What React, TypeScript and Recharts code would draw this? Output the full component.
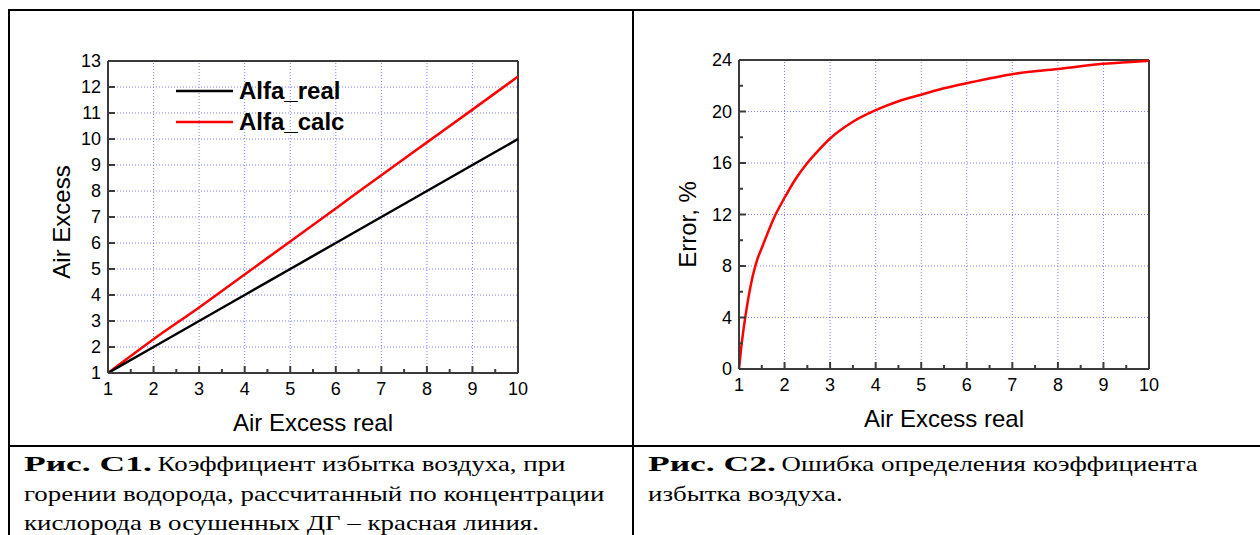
import React from "react";
import { LineChart, Line, XAxis, YAxis, ReferenceLine, Legend, Label } from "recharts";

// ---- data ----
const airExcessReal = [1, 2, 3, 4, 5, 6, 7, 8, 9, 10];
const alfaReal = [1, 2, 3, 4, 5, 6, 7, 8, 9, 10];
const alfaCalc = [1, 2.3, 3.52, 4.79, 6.06, 7.33, 8.61, 9.87, 11.13, 12.4];

const errorX = [1, 1.05, 1.1, 1.15, 1.2, 1.3, 1.4, 1.5, 1.6, 1.75, 2, 2.25, 2.5, 2.75, 3, 3.5, 4, 4.5, 5, 5.5, 6, 7, 8, 9, 10];
const errorPct = [0, 1.7, 3.1, 4.3, 5.4, 7.2, 8.5, 9.4, 10.3, 11.6, 13.3, 14.8, 16.0, 17.0, 17.9, 19.2, 20.1, 20.8, 21.3, 21.8, 22.2, 22.9, 23.3, 23.7, 23.95];

const legendOrder = ["Alfa_real", "Alfa_calc"];
const xTicks = [1, 1.5, 2, 2.5, 3, 3.5, 4, 4.5, 5, 5.5, 6, 6.5, 7, 7.5, 8, 8.5, 9, 9.5, 10];
const xGrid = [2, 3, 4, 5, 6, 7, 8, 9];
const leftYTicks = [1, 2, 3, 4, 5, 6, 7, 8, 9, 10, 11, 12, 13];
const leftYGrid = [2, 3, 4, 5, 6, 7, 8, 9, 10, 11, 12];
const rightYTicks = [0, 2, 4, 6, 8, 10, 12, 14, 16, 18, 20, 22, 24];
const rightYGrid = [4, 8, 12, 16, 20];

const leftData = airExcessReal.map((x, i) => ({ x, real: alfaReal[i], calc: alfaCalc[i] }));
const rightData = errorX.map((x, i) => ({ x, err: errorPct[i] }));

const AXIS = "#3a3a3a";
const GRID = "#8080ff";
const ARIAL = "Arial, 'Liberation Sans', sans-serif";
const TICK_FONT = { fontFamily: ARIAL, fontSize: 18, fill: "#000" };
const TITLE_FONT = { fontFamily: ARIAL, fontSize: 24, fill: "#000" };

function XTick(props: any) {
  const { x, y, payload } = props;
  const v = payload.value as number;
  const major = Number.isInteger(v);
  return (
    <g>
      <line x1={x} x2={x} y1={y} y2={y - (major ? 7 : 4)} stroke={AXIS} strokeWidth={2} />
      {major && (
        <text x={x} y={y + 16} textAnchor="middle" dominantBaseline="central" style={TICK_FONT}>
          {v}
        </text>
      )}
    </g>
  );
}

const makeYTick = (labelStep: number) => (props: any) => {
  const { x, y, payload } = props;
  const v = payload.value as number;
  const major = v % labelStep === 0;
  return (
    <g>
      <line x1={x} x2={x + (major ? 7 : 4)} y1={y} y2={y} stroke={AXIS} strokeWidth={2} />
      {major && (
        <text x={x - 7} y={y} textAnchor="end" dominantBaseline="central" style={TICK_FONT}>
          {v}
        </text>
      )}
    </g>
  );
};

const xTitle = (text: string, baseline: number) => (props: any) => {
  const vb = props.viewBox;
  return (
    <text x={vb.x + vb.width / 2} y={vb.y + baseline} textAnchor="middle" style={TITLE_FONT}>
      {text}
    </text>
  );
};

const yTitle = (text: string, gap: number, shift: number) => (props: any) => {
  const vb = props.viewBox;
  const cx = vb.x + vb.width - gap;
  const cy = vb.y + vb.height / 2 + shift;
  return (
    <text
      x={cx}
      y={cy}
      transform={`rotate(-90 ${cx} ${cy})`}
      textAnchor="middle"
      dominantBaseline="central"
      style={TITLE_FONT}
    >
      {text}
    </text>
  );
};

function LegendBox(props: any) {
  const items = [...(props.payload || [])].sort(
    (a: any, b: any) => legendOrder.indexOf(a.value) - legendOrder.indexOf(b.value)
  );
  return (
    <div style={{ fontFamily: ARIAL, fontWeight: "bold", fontSize: 24, color: "#000" }}>
      {items.map((it: any) => (
        <div key={it.value} style={{ display: "flex", alignItems: "center", height: 31 }}>
          <svg width={57} height={6} style={{ marginRight: 6 }}>
            <line x1={0} x2={57} y1={3} y2={3} stroke={it.color} strokeWidth={2.5} />
          </svg>
          <span>{it.value}</span>
        </div>
      ))}
    </div>
  );
}

function LeftChart() {
  return (
    <LineChart width={630} height={440} data={leftData} margin={{ top: 61, right: 112, left: 14, bottom: 7 }}>
      {xGrid.map((v) => (
        <ReferenceLine key={"gx" + v} x={v} stroke={GRID} strokeDasharray="1 2" />
      ))}
      {leftYGrid.map((v) => (
        <ReferenceLine key={"gy" + v} y={v} stroke={GRID} strokeDasharray="1 2" />
      ))}
      <ReferenceLine y={13} stroke={AXIS} strokeWidth={2} />
      <ReferenceLine x={10} stroke={AXIS} strokeWidth={2} />
      <XAxis
        type="number"
        dataKey="x"
        domain={[1, 10]}
        ticks={xTicks}
        interval={0}
        height={60}
        tickSize={0}
        tickMargin={0}
        tickLine={false}
        tick={XTick}
        axisLine={{ stroke: AXIS, strokeWidth: 2 }}
      >
        <Label content={xTitle("Air Excess real", 58)} />
      </XAxis>
      <YAxis
        type="number"
        domain={[1, 13]}
        ticks={leftYTicks}
        interval={0}
        width={94}
        tickSize={0}
        tickMargin={0}
        tickLine={false}
        tick={makeYTick(1)}
        axisLine={{ stroke: AXIS, strokeWidth: 2 }}
      >
        <Label content={yTitle("Air Excess", 47, 5)} />
      </YAxis>
      <Legend
        content={LegendBox}
        layout="vertical"
        align="center"
        verticalAlign="middle"
        wrapperStyle={{ left: 176, top: 75 }}
      />
      <Line type="monotone" dataKey="calc" name="Alfa_calc" stroke="#ff0000" strokeWidth={2.5} dot={false} isAnimationActive={false} />
      <Line type="monotone" dataKey="real" name="Alfa_real" stroke="#000" strokeWidth={2.5} dot={false} isAnimationActive={false} />
    </LineChart>
  );
}

function RightChart() {
  return (
    <LineChart width={630} height={440} data={rightData} margin={{ top: 60, right: 111, left: 6, bottom: 11 }}>
      {xGrid.map((v) => (
        <ReferenceLine key={"gx" + v} x={v} stroke={GRID} strokeDasharray="1 2" />
      ))}
      {rightYGrid.map((v) => (
        <ReferenceLine key={"gy" + v} y={v} stroke={GRID} strokeDasharray="1 2" />
      ))}
      <ReferenceLine y={24} stroke={AXIS} strokeWidth={2} />
      <ReferenceLine x={10} stroke={AXIS} strokeWidth={2} />
      <XAxis
        type="number"
        dataKey="x"
        domain={[1, 10]}
        ticks={xTicks}
        interval={0}
        height={60}
        tickSize={0}
        tickMargin={0}
        tickLine={false}
        tick={XTick}
        axisLine={{ stroke: AXIS, strokeWidth: 2 }}
      >
        <Label content={xTitle("Air Excess real", 58)} />
      </XAxis>
      <YAxis
        type="number"
        domain={[0, 24]}
        ticks={rightYTicks}
        interval={0}
        width={103}
        tickSize={0}
        tickMargin={0}
        tickLine={false}
        tick={makeYTick(4)}
        axisLine={{ stroke: AXIS, strokeWidth: 2 }}
      >
        <Label content={yTitle("Error, %", 52, 10)} />
      </YAxis>
      <Line type="monotone" dataKey="err" name="Error" stroke="#ff0000" strokeWidth={2.5} dot={false} isAnimationActive={false} />
    </LineChart>
  );
}

// the caption text in the source is horizontally stretched
const captionStyle: React.CSSProperties = {
  position: "absolute",
  top: 450,
  fontFamily: "'Liberation Serif', 'Times New Roman', serif",
  fontSize: 21.5,
  lineHeight: "29.5px",
  color: "#000",
  whiteSpace: "nowrap",
  transform: "scaleX(1.25)",
  transformOrigin: "left top",
};

const boldLead: React.CSSProperties = {
  display: "inline-block",
  fontWeight: "bold",
  transform: "scaleX(1.32)",
  transformOrigin: "left center",
  marginRight: 24,
};

export default function App() {
  return (
    <div style={{ position: "absolute", left: 0, top: 0, width: 1260, height: 535, background: "#fff", overflow: "hidden" }}>
      <div style={{ position: "absolute", left: 8, top: 9, width: 1260, height: 2, background: "#000" }} />
      <div style={{ position: "absolute", left: 8, top: 9, width: 2, height: 540, background: "#000" }} />
      <div style={{ position: "absolute", left: 632, top: 9, width: 2, height: 540, background: "#000" }} />
      <div style={{ position: "absolute", left: 8, top: 445, width: 1260, height: 2, background: "#000" }} />

      <div style={{ position: "absolute", left: 0, top: 0 }}>
        <LeftChart />
      </div>
      <div style={{ position: "absolute", left: 630, top: 0 }}>
        <RightChart />
      </div>

      <div style={{ ...captionStyle, left: 24 }}>
        <span style={boldLead}>Рис. С1.</span> Коэффициент избытка воздуха, при
        <br />
        горении водорода, рассчитанный по концентрации
        <br />
        кислорода в осушенных ДГ – красная линия.
      </div>
      <div style={{ ...captionStyle, left: 648 }}>
        <span style={boldLead}>Рис. С2.</span> Ошибка определения коэффициента
        <br />
        избытка воздуха.
      </div>
    </div>
  );
}
